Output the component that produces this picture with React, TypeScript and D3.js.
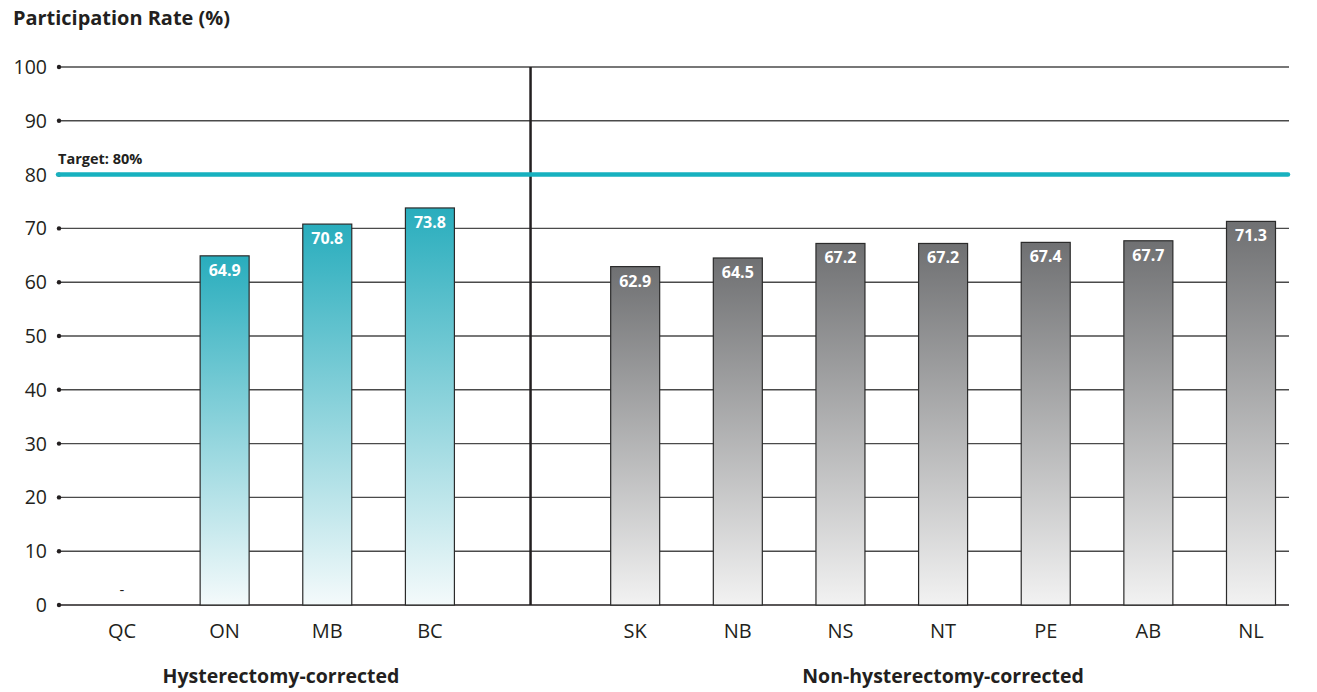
import React from "react";
import * as d3 from "d3";

const groupA = ["QC", "ON", "MB", "BC"];
const groupB = ["SK", "NB", "NS", "NT", "PE", "AB", "NL"];
const valuesA: (number | null)[] = [null, 64.9, 70.8, 73.8];
const valuesB: number[] = [62.9, 64.5, 67.2, 67.2, 67.4, 67.7, 71.3];
const yTicks = [0, 10, 20, 30, 40, 50, 60, 70, 80, 90, 100];
const target = 80;
const groupLabels = ["Hysterectomy-corrected", "Non-hysterectomy-corrected"];

const W = 1317, H = 692;
const FONT = "'Open Sans', 'Noto Sans', sans-serif";

export default function App() {
  const slots = [...groupA, "__gap", ...groupB];
  const x = d3.scalePoint<string>().domain(slots).range([122, 1251]);
  const y = d3.scaleLinear().domain([0, 100]).range([605, 67]);
  const gridX0 = 59, gridX1 = 1289;
  const bw = 49;
  const gapX = x("__gap")! - 2;
  const midA = (x("QC")! + x("BC")!) / 2 + 5;
  const midB = (x("SK")! + x("NL")!) / 2;

  const bars = [
    ...groupA.map((c, i) => ({ c, v: valuesA[i], g: "a" })),
    ...groupB.map((c, i) => ({ c, v: valuesB[i] as number | null, g: "b" })),
  ];

  return (
    <svg width={W} height={H} style={{ display: "block", position: "absolute", left: 0, top: 0 }}>
      <defs>
        <linearGradient id="gTeal" x1="0" y1="0" x2="0" y2="1">
          <stop offset="0" stopColor="#29adbd" />
          <stop offset="1" stopColor="#f4fafb" />
        </linearGradient>
        <linearGradient id="gGray" x1="0" y1="0" x2="0" y2="1">
          <stop offset="0" stopColor="#6f7072" />
          <stop offset="1" stopColor="#f2f2f2" />
        </linearGradient>
      </defs>
      <rect width={W} height={H} fill="#fff" />
      <text x={13} y={25} fontFamily={FONT} fontWeight={700} fontSize={19.5} fill="#231f20" textLength={217} lengthAdjust="spacingAndGlyphs">
        Participation Rate (%)
      </text>
      {yTicks.map((t) => (
        <g key={t}>
          <line x1={gridX0} x2={gridX1} y1={y(t)} y2={y(t)} stroke={t === 0 ? "#231f20" : "#4a4a4a"} strokeWidth={t === 0 ? 1.6 : 1.4} />
          <circle cx={gridX0} cy={y(t)} r={2.2} fill="#231f20" />
          <text x={47} y={y(t)} dy="0.36em" textAnchor="end" fontFamily={FONT} fontSize={19.5} fill="#231f20">
            {t}
          </text>
        </g>
      ))}
      {bars.map((b) =>
        b.v == null ? (
          <text key={b.c} x={x(b.c)!} y={y(0) - 10} textAnchor="middle" fontFamily={FONT} fontSize={15} fill="#231f20">-</text>
        ) : (
          <g key={b.c}>
            <rect x={x(b.c)! - bw / 2} y={y(b.v)} width={bw} height={y(0) - y(b.v)} fill={b.g === "a" ? "url(#gTeal)" : "url(#gGray)"} stroke="#2b2b2b" strokeWidth={1.2} />
            <text x={x(b.c)!} y={y(b.v) + 20} textAnchor="middle" fontFamily={FONT} fontWeight={700} fontSize={16} fill="#fff">
              {b.v.toFixed(1)}
            </text>
          </g>
        )
      )}
      <line x1={gapX} x2={gapX} y1={y(100)} y2={y(0)} stroke="#231f20" strokeWidth={2.5} />
      <line x1={58} x2={1288} y1={y(target)} y2={y(target)} stroke="#17b1bf" strokeWidth={4.5} strokeLinecap="round" />
      <text x={58} y={y(target) - 11} fontFamily={FONT} fontWeight={700} fontSize={14.5} fill="#231f20">
        Target: 80%
      </text>
      {slots.filter((s) => s !== "__gap").map((s) => (
        <text key={s} x={x(s)!} y={638} textAnchor="middle" fontFamily={FONT} fontSize={20} fill="#231f20">
          {s}
        </text>
      ))}
      <text x={midA} y={683} textAnchor="middle" fontFamily={FONT} fontWeight={700} fontSize={19.5} fill="#231f20">
        {groupLabels[0]}
      </text>
      <text x={midB} y={683} textAnchor="middle" fontFamily={FONT} fontWeight={700} fontSize={19.5} fill="#231f20">
        {groupLabels[1]}
      </text>
    </svg>
  );
}
